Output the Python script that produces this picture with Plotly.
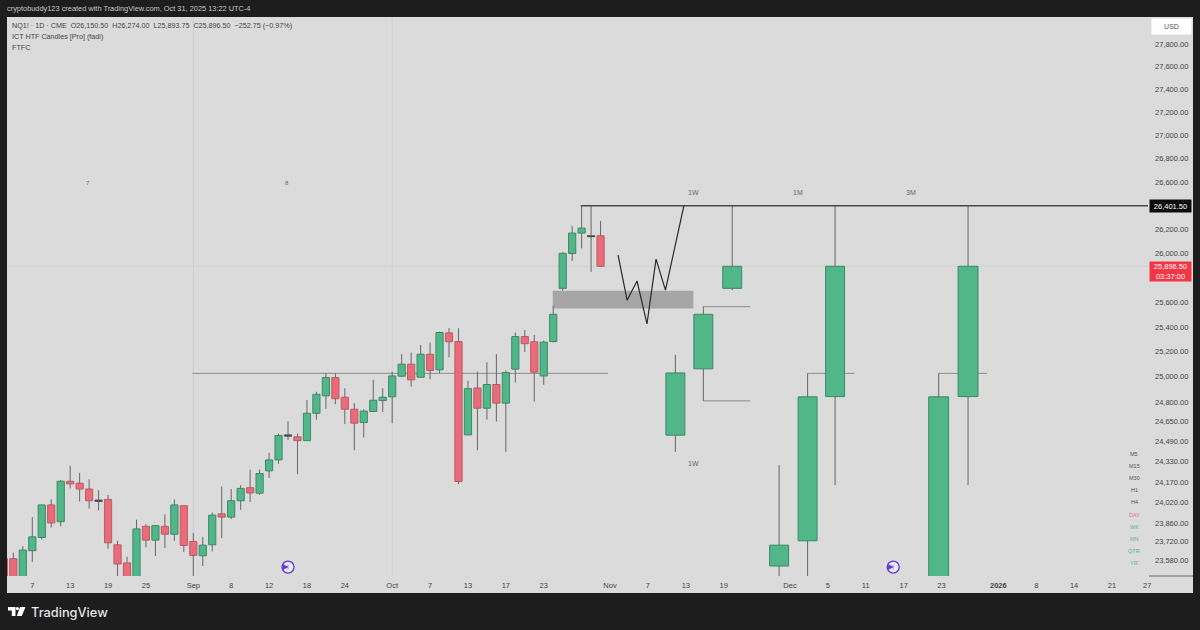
import math
import plotly.graph_objects as go

# daily bars, bar index 0 = Aug 7
bar_x = list(range(-3, 61))
opens = [23590, 23590, 23430, 23650, 23750, 23998, 23870, 24180, 24165, 24120, 24035, 24040, 23695, 23558, 23400,
         23835, 23730, 23835, 23775, 23992, 23720, 23612, 23695, 23930, 23905, 24030, 24130, 24088, 24260, 24345,
         24530, 24525, 24495, 24710, 24848, 24993, 24837, 24742, 24637, 24724, 24810, 24840, 25004, 25100, 24996,
         25180, 25055, 25352, 25282, 24540, 24910, 24750, 24938, 24790, 25060, 25322, 25280, 25006, 25282, 25715,
         26002, 26172, 26150, 26150]
highs = [23590, 23635, 23685, 23905, 24000, 24040, 24190, 24300, 24245, 24195, 24110, 24075, 23725, 23605, 23885,
         23850, 23845, 23925, 24040, 23992, 23785, 23755, 23940, 24140, 24120, 24150, 24270, 24270, 24400, 24550,
         24645, 24550, 24815, 24880, 25028, 25028, 24908, 24790, 24742, 24975, 24908, 25040, 25180, 25193, 25255,
         25273, 25362, 25390, 25390, 24968, 25040, 25115, 25180, 25050, 25355, 25375, 25335, 25290, 25570, 26012,
         26233, 26401.5, 26401.5, 26274]
lows = [23400, 23400, 23400, 23565, 23735, 23825, 23835, 24125, 24025, 23970, 23955, 23665, 23455, 23400, 23400,
        23675, 23610, 23670, 23725, 23640, 23460, 23535, 23645, 23745, 23890, 23960, 24020, 24075, 24205, 24315,
        24500, 24235, 24495, 24660, 24745, 24782, 24625, 24420, 24520, 24724, 24720, 24632, 24996, 24922, 24996,
        24980, 25028, 25155, 24158, 24540, 24420, 24660, 24645, 24408, 24955, 25198, 24802, 24935, 25275, 25695,
        25940, 26045, 25850, 25893.75]
closes = [23400, 23420, 23655, 23755, 23998, 23860, 24180, 24160, 24120, 24030, 24025, 23710, 23550, 23400, 23815,
          23730, 23840, 23775, 23998, 23690, 23615, 23692, 23920, 23905, 24030, 24125, 24090, 24240, 24345, 24535,
          24540, 24495, 24710, 24860, 24993, 24825, 24742, 24632, 24727, 24813, 24837, 25006, 25100, 24975, 25180,
          25050, 25355, 25280, 24178, 24905, 24750, 24938, 24790, 25033, 25322, 25265, 25036, 25277, 25503, 26004,
          26172, 26214, 26142, 25896.5]

# hand drawn projected candles
fut_x = [67.9, 70.85, 73.9, 78.85, 81.86, 84.76, 95.7, 98.8]
fut_open = [24538, 25063, 25715, 23535, 23725, 24842, 23400, 24842]
fut_close = [25030, 25503, 25896.5, 23692, 24840, 25896.5, 24840, 25896.5]
fut_high = [25175, 25565, 26401.5, 24305, 25027, 26401.5, 25027, 26401.5]
fut_low = [24408, 24808, 25700, 23400, 23400, 24150, 23400, 24150]
fut_width = [2.0, 2.0, 2.0, 2.0, 2.0, 2.0, 2.1, 2.1]

# horizontal levels (x0, x1, price)
levels = [(16.9, 60.8, 25027), (70.85, 75.8, 25565), (70.85, 75.8, 24808), (81.86, 86.8, 25027),
          (95.7, 100.8, 25027)]
top_level = 26401.5
top_level_x = 57.9
last_price = 25896.5

zone_x0, zone_x1 = 54.95, 69.8
zone_low, zone_high = 25550, 25695

zig_x = [61.85, 62.8, 63.85, 64.9, 65.86, 66.85, 68.8]
zig_y = [25988, 25618, 25775, 25425, 25955, 25700, 26401.5]

icon_x = [27.0, 90.9]
icon_y = [23527, 23527]
month_lines = [17, 38]

x_ticks = [0, 4, 8, 12, 17, 21, 25, 29, 33, 38, 42, 46, 50, 54, 61, 65, 69, 73, 80, 84, 88, 92, 96, 102, 106, 110, 114]
x_labels = ['7', '13', '19', '25', 'Sep', '8', '12', '18', '24', 'Oct', '7', '13', '17', '23', 'Nov', '7', '13', '19',
            'Dec', '5', '11', '17', '23', '<b>2026</b>', '8', '14', '21']
y_ticks = [27800, 27600, 27400, 27200, 27000, 26800, 26600, 26200, 26000, 25600, 25400, 25200, 25000, 24800, 24650,
           24490, 24330, 24170, 24020, 23860, 23720, 23580]
tf_labels = ['M5', 'M15', 'M30', 'H1', 'H4', 'DAY', 'WK', 'MN', 'QTR', 'YR']
tf_colors = ['#555555'] * 5 + ['#e8707c'] + ['#62b58c'] * 4

FONT = 'Liberation Sans'
GREEN, GREEN_EDGE = '#52b788', '#3a8a68'
RED, RED_EDGE = '#ec6b78', '#b85c68'
WICK = '#666666'
PANEL = '#dbdbdb'
DARK = '#1d1d1d'

W, H = 1200, 630
L, R, T, B = 7, 52, 17, 54
PW, PH = W - L - R, H - T - B


def px(x):
    return (x - L) / PW


def py(y):
    return (H - B - y) / PH


def wick_xy(xs, os_, hs, ls, cs):
    wx, wy = [], []
    for x, o, h, l, c in zip(xs, os_, hs, ls, cs):
        wx += [x, x, None, x, x, None]
        wy += [h, max(o, c), None, min(o, c), l, None]
    return wx, wy


def body_colors(os_, cs):
    fill, edge = [], []
    for o, c in zip(os_, cs):
        if abs(c - o) < 12:
            fill.append('#4a4a4a')
            edge.append('#4a4a4a')
        elif c >= o:
            fill.append(GREEN)
            edge.append(GREEN_EDGE)
        else:
            fill.append(RED)
            edge.append(RED_EDGE)
    return fill, edge


fig = go.Figure()

fig.add_trace(go.Bar(x=[(zone_x0 + zone_x1) / 2], y=[zone_high - zone_low], base=[zone_low],
                     width=[zone_x1 - zone_x0], marker=dict(color='#a6a6a6', line=dict(width=0))))

all_x = bar_x + fut_x
all_o = opens + fut_open
all_h = highs + fut_high
all_l = lows + fut_low
all_c = closes + fut_close
fill, edge = body_colors(all_o, all_c)
fig.add_trace(go.Bar(x=all_x,
                     y=[abs(c - o) for o, c in zip(all_o, all_c)],
                     base=[min(o, c) for o, c in zip(all_o, all_c)],
                     width=[0.76] * len(bar_x) + fut_width,
                     marker=dict(color=fill, line=dict(color=edge, width=1))))

wx, wy = wick_xy(all_x, all_o, all_h, all_l, all_c)
fig.add_trace(go.Scatter(x=wx, y=wy, mode='lines', line=dict(color=WICK, width=1)))

fig.add_trace(go.Scatter(x=[top_level_x, 117.8], y=[top_level, top_level], mode='lines',
                         line=dict(color='#4a4a4a', width=1.4)))
fig.add_trace(go.Scatter(x=zig_x, y=zig_y, mode='lines', line=dict(color='#2a2a2a', width=1.2)))

fig.add_trace(go.Scatter(x=icon_x, y=icon_y, mode='markers',
                         marker=dict(symbol='circle', size=12, color='#ececf8',
                                     line=dict(color='#5b35d5', width=1.3))))
fig.add_trace(go.Scatter(x=icon_x, y=icon_y, mode='markers',
                         marker=dict(symbol='arrow-bar-right', size=5, color='#5b35d5',
                                     line=dict(color='#5b35d5', width=0.5))))

shapes = [
    dict(type='rect', xref='paper', yref='paper', x0=px(7), x1=px(1193), y0=py(17), y1=py(593),
         fillcolor=PANEL, line=dict(width=0), layer='below'),
    dict(type='line', xref='paper', yref='paper', x0=px(1149), x1=px(1193), y0=py(576), y1=py(576),
         line=dict(color='#6a6a6a', width=1), layer='below'),
    # TradingView logo
    dict(type='path', xref='paper', yref='paper', fillcolor='#ffffff', line=dict(width=0),
         path='M {} {} L {} {} L {} {} L {} {} L {} {} L {} {} Z'.format(
             px(8), py(607), px(15.5), py(607), px(15.5), py(616), px(11.8), py(616),
             px(11.8), py(610.5), px(8), py(610.5))),
    dict(type='circle', xref='paper', yref='paper', fillcolor='#ffffff', line=dict(width=0),
         x0=px(15.8), x1=px(19), y0=py(607), y1=py(610.2)),
    dict(type='path', xref='paper', yref='paper', fillcolor='#ffffff', line=dict(width=0),
         path='M {} {} L {} {} L {} {} L {} {} Z'.format(
             px(20), py(607), px(25.5), py(607), px(21.8), py(616), px(16.8), py(616))),
]
for m in month_lines:
    shapes.append(dict(type='line', xref='x', yref='paper', x0=m, x1=m, y0=0, y1=1,
                       line=dict(color='#cfcfcf', width=1), layer='below'))
# levels sit behind the candles
shapes.append(dict(type='line', xref='paper', yref='y', x0=0, x1=1, y0=last_price, y1=last_price,
                   line=dict(color='#d0d0d0', width=1), layer='below'))
for x0, x1, p in levels:
    shapes.append(dict(type='line', xref='x', yref='y', x0=x0, x1=x1, y0=p, y1=p,
                       line=dict(color='#8c8c8c', width=1), layer='below'))


def label(text, x, y, size=7.5, color='#444444', anchor='left', **kw):
    return dict(text=text, x=px(x), y=py(y), xref='paper', yref='paper', showarrow=False,
                xanchor=anchor, yanchor='middle', font=dict(family=FONT, size=size, color=color),
                borderpad=0, **kw)


annotations = [
    label('cryptobuddy123 created with TradingView.com, Oct 31, 2025 13:22 UTC-4', 6, 9, size=7.4, color='#c8c8c8'),
    label('NQ1! · 1D · CME  O26,150.50  H26,274.00  L25,893.75  C25,896.50  −252.75 (−0.97%)', 10.5, 25.5, size=7.2),
    label('ICT HTF Candles [Pro] (fadi)', 10.5, 36, size=7.2),
    label('FTFC', 10.5, 47, size=7.2),
    label('7', 88, 183, size=6, color='#666666', anchor='center'),
    label('8', 287, 183, size=6, color='#666666', anchor='center'),
    label('1W', 693, 193, size=7, color='#666666', anchor='center'),
    label('1M', 798, 193, size=7, color='#666666', anchor='center'),
    label('3M', 911, 193, size=7, color='#666666', anchor='center'),
    label('1W', 693, 463, size=7, color='#666666', anchor='center'),
    label('27', 1147, 585, size=7.5, color='#444444', anchor='center'),
    label('USD', 1171.5, 26.5, size=7, color='#555555', anchor='center', bgcolor='#ffffff', width=39, height=15),
    label('26,401.50', 1170, 206.5, size=7.5, color='#ffffff', anchor='center', bgcolor='#0c0c0c', width=41, height=12),
    label('25,896.50<br>03:37:00', 1170, 271.5, size=7.5, color='#ffffff', anchor='center', bgcolor='#f23645',
          width=41, height=19),
    dict(text='TradingView', x=px(29), y=py(612), xref='paper', yref='paper', showarrow=False, xanchor='left',
         yanchor='middle', font=dict(family='Inter', size=12.8, color='#e4e4e4', weight=500)),
]
for i, (t, c) in enumerate(zip(tf_labels, tf_colors)):
    annotations.append(label(t, 1134, 454 + i * 12.1, size=5.5, color=c, anchor='center'))

fig.update_layout(
    width=W, height=H,
    margin=dict(l=L, r=R, t=T, b=B, pad=0),
    paper_bgcolor=DARK,
    plot_bgcolor=PANEL,
    showlegend=False,
    barmode='overlay',
    font=dict(family=FONT, size=7.5, color='#444444'),
    shapes=shapes,
    annotations=annotations,
    xaxis=dict(range=[-2.67, 117.8], tickmode='array', tickvals=x_ticks, ticktext=x_labels, showgrid=False,
               zeroline=False, showline=False, ticks='', tickangle=0, ticklabelstandoff=3,
               tickfont=dict(family=FONT, size=7.5, color='#444444')),
    yaxis=dict(type='log', range=[math.log10(23460), math.log10(28040)], side='right', tickmode='array',
               tickvals=y_ticks, ticktext=['{:,.2f}'.format(v) for v in y_ticks], showgrid=False, zeroline=False,
               showline=False, ticks='', ticklabelstandoff=6, tickfont=dict(family=FONT, size=7.5, color='#444444')),
)

# plotly page keeps the default 8px body margin otherwise
fig.write_html("out.html", config=dict(displayModeBar=False), post_script="document.body.style.margin='0';")
